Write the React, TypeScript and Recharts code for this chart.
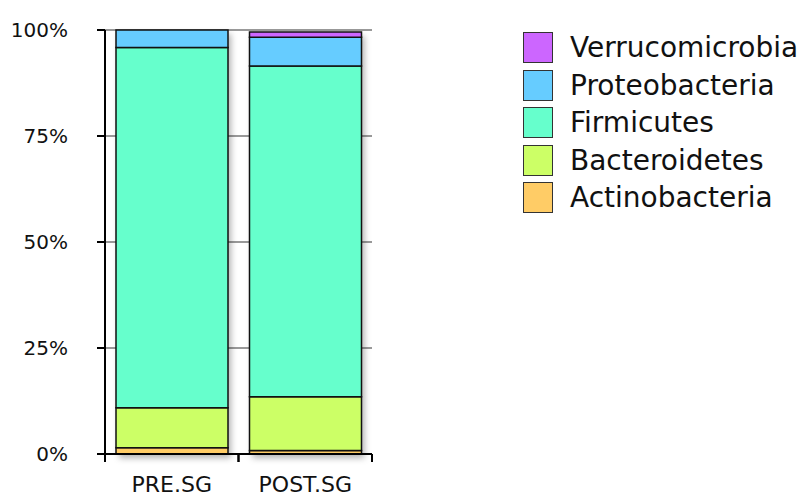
import React from 'react';
import { BarChart, Bar, XAxis, YAxis, CartesianGrid } from 'recharts';

const categories = ['PRE.SG', 'POST.SG'];
const actinobacteria = [1.5, 0.8];
const bacteroidetes = [9.4, 12.7];
const firmicutes = [85.0, 78.0];
const proteobacteria = [4.1, 6.8];
const verrucomicrobia = [0, 1.2];
const yTicks = [0, 25, 50, 75, 100];

// stacking order, bottom to top
const phyla = ['Actinobacteria', 'Bacteroidetes', 'Firmicutes', 'Proteobacteria', 'Verrucomicrobia'];
const phylumValues = [actinobacteria, bacteroidetes, firmicutes, proteobacteria, verrucomicrobia];

const colors: Record<string, string> = {
  Actinobacteria: '#ffcc66',
  Bacteroidetes: '#ccff66',
  Firmicutes: '#66ffcc',
  Proteobacteria: '#66ccff',
  Verrucomicrobia: '#cc66ff',
};

const data = categories.map((name, i) => {
  const row: Record<string, any> = { name };
  phyla.forEach((p, j) => {
    row[p] = phylumValues[j][i];
  });
  return row;
});

const FONT = '"DejaVu Sans", sans-serif';
const PLOT_LEFT = 105;
const PLOT_RIGHT = 372;
const HALF_BAND = (PLOT_RIGHT - PLOT_LEFT) / categories.length / 2;

// bottom segment also paints the drop shadow for the whole stack
const ShadowBase = (props: any) => {
  const { x, y, width, height, payload, fill } = props;
  const value = payload.Actinobacteria;
  const total = phyla.reduce((s, p) => s + (payload[p] || 0), 0);
  const unit = value ? height / value : 0;
  const fullH = total * unit;
  return (
    <g>
      <rect x={x} y={y + height - fullH} width={width} height={fullH} fill="#fff" filter="url(#barShadow)" />
      <rect x={x} y={y} width={width} height={height} fill={fill} stroke="#111" strokeWidth={1.5} />
    </g>
  );
};

const XTick = (props: any) => {
  const { x, y, payload } = props;
  return (
    <g>
      <line x1={x - HALF_BAND} x2={x - HALF_BAND} y1={y} y2={y + 8} stroke="#000" strokeWidth={2} />
      <line x1={x + HALF_BAND} x2={x + HALF_BAND} y1={y} y2={y + 8} stroke="#000" strokeWidth={2} />
      <text x={x} y={y + 38} textAnchor="middle" fontSize={22} fill="#111" fontFamily={FONT}>
        {payload.value}
      </text>
    </g>
  );
};

export default function App() {
  return (
    <div
      style={{
        position: 'absolute',
        left: 0,
        top: 0,
        width: 810,
        height: 497,
        overflow: 'hidden',
        background: '#fff',
        fontFamily: FONT,
      }}
    >
      <BarChart
        width={810}
        height={497}
        data={data}
        margin={{ top: 30, right: 810 - PLOT_RIGHT, bottom: 0, left: 0 }}
        barSize={112}
      >
        <defs>
          <filter id="barShadow" x="-20%" y="-20%" width="140%" height="140%">
            <feDropShadow dx="3" dy="4" stdDeviation="3" floodColor="#000" floodOpacity="0.3" />
          </filter>
        </defs>
        <CartesianGrid vertical={false} stroke="#999" strokeWidth={2} />
        <XAxis
          dataKey="name"
          height={43}
          interval={0}
          tickLine={false}
          tickSize={0}
          tickMargin={0}
          axisLine={{ stroke: '#000', strokeWidth: 2 }}
          tick={<XTick />}
        />
        <YAxis
          width={PLOT_LEFT}
          domain={[0, 100]}
          ticks={yTicks}
          tickFormatter={(v) => `${v}%`}
          tickSize={8}
          tickMargin={29}
          axisLine={{ stroke: '#000', strokeWidth: 2 }}
          tickLine={{ stroke: '#000', strokeWidth: 2 }}
          tick={{ fill: '#111', fontSize: 20, fontFamily: FONT }}
        />
        {phyla.map((p, j) => (
          <Bar
            key={p}
            dataKey={p}
            stackId="a"
            fill={colors[p]}
            stroke="#111"
            strokeWidth={1.5}
            isAnimationActive={false}
            shape={j === 0 ? <ShadowBase /> : undefined}
          />
        ))}
      </BarChart>
      <div style={{ position: 'absolute', left: 523, top: 32 }}>
        {[...phyla].reverse().map((p) => (
          <div key={p} style={{ display: 'flex', alignItems: 'center', height: 31, marginBottom: 6.5 }}>
            <div
              style={{
                width: 28,
                height: 29,
                background: colors[p],
                border: '1.5px solid #333',
                flexShrink: 0,
              }}
            />
            <span style={{ marginLeft: 17, fontSize: 28, color: '#111', whiteSpace: 'nowrap', lineHeight: '31px' }}>
              {p}
            </span>
          </div>
        ))}
      </div>
    </div>
  );
}
